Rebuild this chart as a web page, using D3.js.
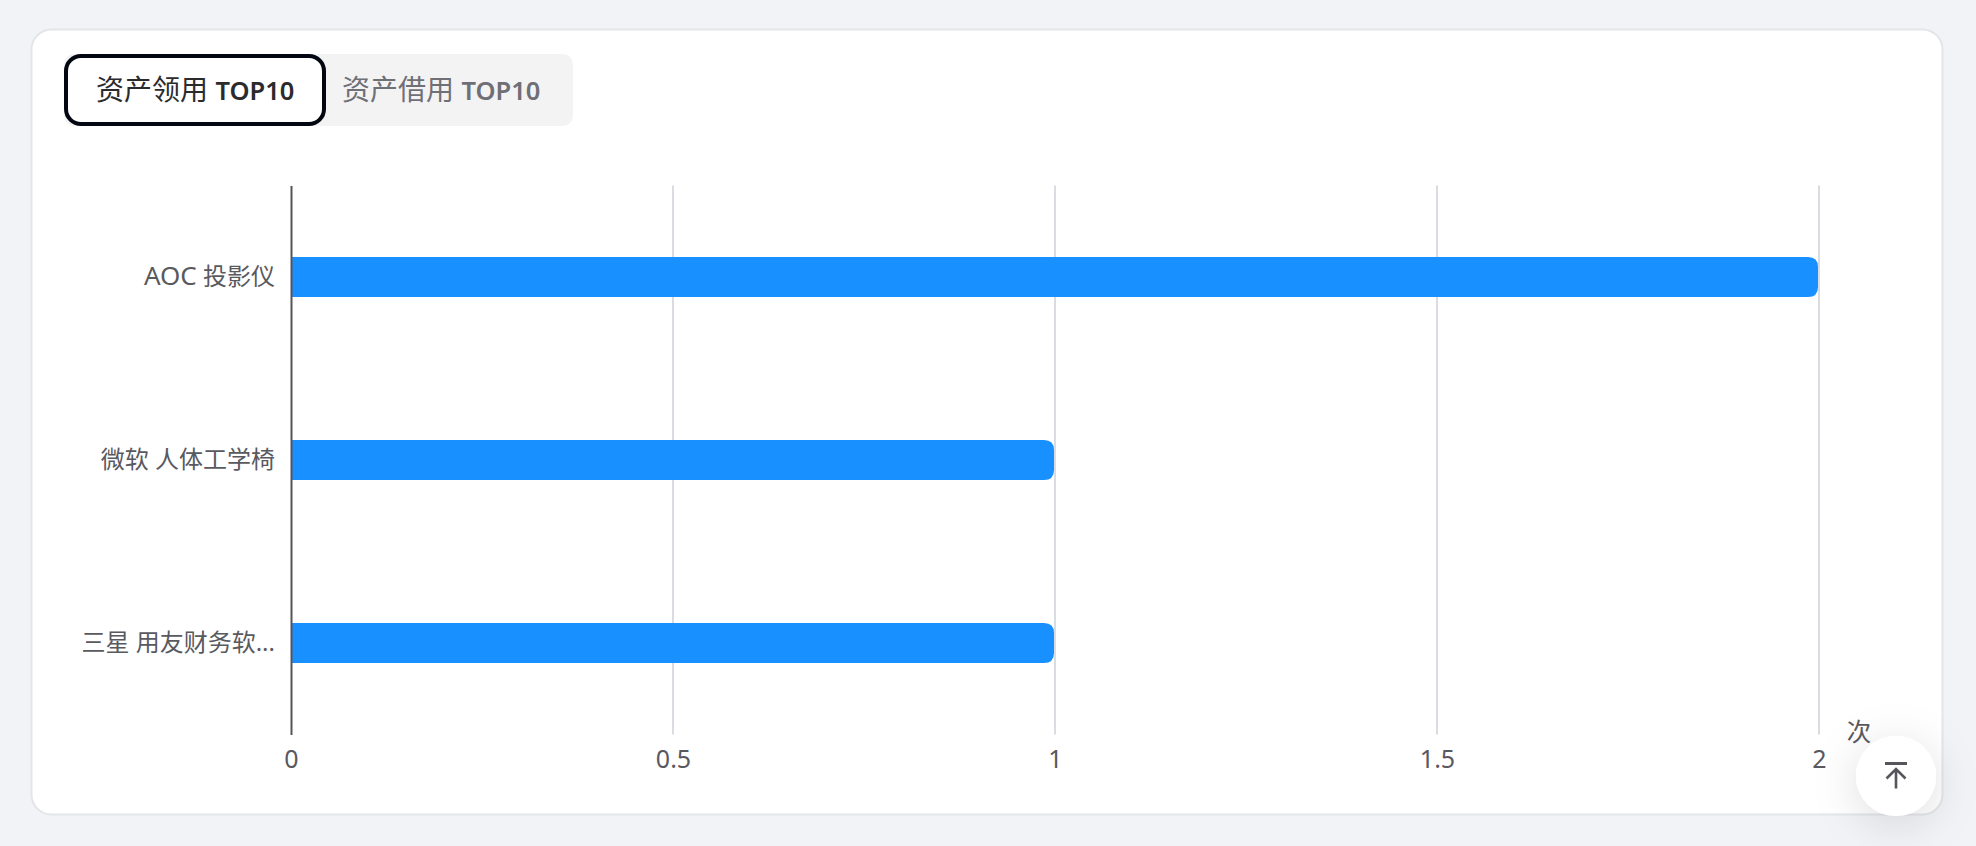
<!DOCTYPE html>
<html lang="zh-CN">
<head>
<meta charset="utf-8">
<title>资产领用 TOP10</title>
<script src="https://cdn.jsdelivr.net/npm/d3@7/dist/d3.min.js"></script>
<style>
html,body{margin:0;padding:0;width:1976px;height:846px;overflow:hidden;background:#f1f3f7;}
svg{display:block;font-family:"Noto Sans","Noto Sans CJK SC",sans-serif;}
</style>
</head>
<body>
<svg id="c" width="1976" height="846"></svg>
<script>
const categories = ["AOC 投影仪", "微软 人体工学椅", "三星 用友财务软..."];
const values = [2, 1, 1];
const xTicks = [0, 0.5, 1, 1.5, 2];
const tabLabels = [["资产领用", "TOP10"], ["资产借用", "TOP10"]];
const unitLabel = "次";

const svg = d3.select("#c");
const defs = svg.append("defs");
const f = defs.append("filter").attr("id","sh").attr("x","-100%").attr("y","-100%").attr("width","300%").attr("height","300%");
f.append("feDropShadow").attr("dx",0).attr("dy",8).attr("stdDeviation",22).attr("flood-color","#000").attr("flood-opacity",0.13);

// card
svg.append("rect").attr("x",31.5).attr("y",29.5).attr("width",1911).attr("height",785)
  .attr("rx",20).attr("fill","#fff").attr("stroke","#e3e5e9").attr("stroke-width",2);

// tabs
svg.append("rect").attr("x",64).attr("y",54).attr("width",509).attr("height",72).attr("rx",10).attr("fill","#f3f3f4");
svg.append("rect").attr("x",66).attr("y",56).attr("width",258).attr("height",68).attr("rx",15)
  .attr("fill","#fff").attr("stroke","#030712").attr("stroke-width",4);
const tabX = [96, 342], tabCol = ["#2b2b2e", "#6f6f76"];
tabLabels.forEach((t,i)=>{
  const e = svg.append("text").attr("x",tabX[i]).attr("y",100).attr("font-size",28)
    .attr("fill",tabCol[i]).attr("font-family",'"Noto Sans CJK SC",sans-serif');
  e.append("tspan").text(t[0]);
  e.append("tspan").attr("dx",7.5).attr("font-size",25.5).attr("font-weight",600).attr("font-family",'"Noto Sans",sans-serif').text(t[1]);
});

// scales
const x = d3.scaleLinear().domain([0,2]).range([291,1819]);
const y = d3.scaleBand().domain(categories).range([185.5,734.5]);
const barH = 40;
const plotTop = y.range()[0], plotBottom = y.range()[1];
const gridW = 2;

// grid
svg.append("g").selectAll("line").data(xTicks.filter(d=>d>0)).join("line")
  .attr("x1",d=>x(d)).attr("x2",d=>x(d)).attr("y1",plotTop).attr("y2",plotBottom)
  .attr("stroke","#d9dce1").attr("stroke-width",gridW);

// bars
const r = 10;
svg.append("g").selectAll("path").data(categories).join("path")
  .attr("fill","#1890ff")
  .attr("d",(c,i)=>{
    const x0=x(0), x1=x(values[i])-gridW/2, cy=y(c)+y.bandwidth()/2, y0=cy-barH/2, y1=cy+barH/2;
    return `M${x0},${y0}H${x1-r}Q${x1},${y0} ${x1},${y0+r}V${y1-r}Q${x1},${y1} ${x1-r},${y1}H${x0}Z`;
  });

// y axis
const yAxis = d3.axisLeft(y).tickSize(0).tickPadding(16);
const gy = svg.append("g").attr("transform",`translate(${x(0)},0)`).call(yAxis);
gy.select(".domain").attr("stroke","#55555b").attr("stroke-width",2);
gy.selectAll("text").attr("font-size",24).attr("fill","#595960")
  .attr("font-family",'"Noto Sans","Noto Sans CJK SC",sans-serif')
  .each(function(d){
    const m = /^([A-Za-z]+)( .*)$/.exec(d);
    if(!m) return;
    const t = d3.select(this).text(null);
    t.append("tspan").attr("font-size",26).text(m[1]);
    t.append("tspan").text(m[2]);
  });

// x axis
const xAxis = d3.axisBottom(x).tickValues(xTicks).tickSize(0).tickPadding(0).tickFormat(d3.format("~g"));
const gx = svg.append("g").attr("transform",`translate(0,${plotBottom})`).call(xAxis);
gx.select(".domain").remove();
gx.selectAll("text").attr("y",16).attr("font-size",25).attr("fill","#595960")
  .attr("font-family",'"Noto Sans",sans-serif');

// unit
svg.append("text").attr("x",1859).attr("y",741).attr("text-anchor","middle")
  .attr("font-size",24.5).attr("fill","#595960").text(unitLabel);

// back-to-top button
const b = svg.append("g").attr("transform","translate(1896,776)");
b.append("circle").attr("r",40).attr("fill","#fff").attr("filter","url(#sh)");
b.append("circle").attr("r",40).attr("fill","#fff");
const ic = b.append("g").attr("fill","none").attr("stroke","#55555b").attr("stroke-width",2.6);
ic.append("line").attr("x1",-11).attr("x2",11).attr("y1",-12.5).attr("y2",-12.5).attr("stroke-width",3);
ic.append("path").attr("d","M0,12.5V-7M-9.5,2.5L0,-7L9.5,2.5");
</script>
</body>
</html>
